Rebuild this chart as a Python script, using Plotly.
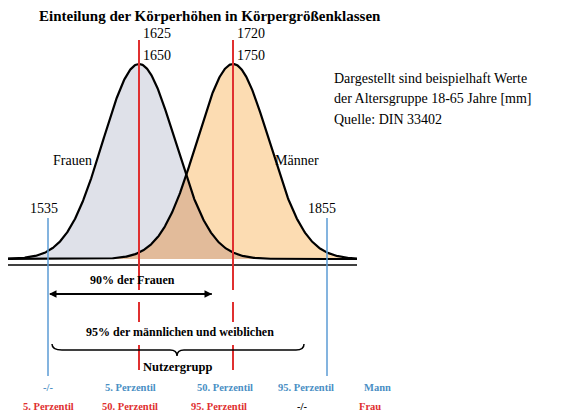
import numpy as np
import plotly.graph_objects as go

title = "Einteilung der Körperhöhen in Körpergrößenklassen"
women_vals = ["1625", "1650"]
men_vals = ["1720", "1750"]
p5_women, p95_men = "1535", "1855"
note_lines = ["Dargestellt sind beispielhaft Werte", "der Altersgruppe 18-65 Jahre [mm]", "Quelle: DIN 33402"]
mann_row = ["-/-", "5. Perzentil", "50. Perzentil", "95. Perzentil", "Mann"]
frau_row = ["5. Perzentil", "50. Perzentil", "95. Perzentil", "-/-", "Frau"]

F = "Liberation Serif"
BLUE = "#4a8fc4"; RED = "#e03030"; LBLUE = "#5b9bd5"
fig = go.Figure()
base, peak, sig = 259, 64, 36
cw, cm = 139, 233
x = np.linspace(0, 357, 600)
def g(c): return base - (base - peak) * np.exp(-((x - c) ** 2) / (2 * sig ** 2))
yw, ym = g(cw), g(cm)
def poly(y, col):
    fig.add_trace(go.Scatter(x=np.r_[x, x[::-1]], y=np.r_[y, np.full_like(x, base)], fill="toself",
                             fillcolor=col, line=dict(width=0), mode="lines", hoverinfo="skip"))
poly(yw, "#dfe1e9"); poly(ym, "#fcdcb2"); poly(np.maximum(yw, ym), "#e2bb9a")
for y in (yw, ym):
    fig.add_trace(go.Scatter(x=x, y=y, mode="lines", line=dict(color="black", width=2.2), hoverinfo="skip"))
shapes = []
def L(x0, y0, x1, y1, c, w=2):
    shapes.append(dict(type="line", x0=x0, y0=y0, x1=x1, y1=y1, line=dict(color=c, width=w)))
L(0, 265, 357, 265, "black", 1.5)
for xx in (48, 327): L(xx, 218, xx, 376, LBLUE, 1.5)
for xx in (cw, cm):
    L(xx, 40, xx, 290, RED); L(xx, 302, xx, 322, RED); L(xx, 345, xx, 370, RED)
L(50, 294, 212, 294, "black", 1.5)
shapes.append(dict(type="path", path="M 52 344 Q 52 350 62 350 L 170 350 Q 177 350 177 356 Q 177 350 184 350 L 296 350 Q 304 350 304 344",
                   line=dict(color="black", width=1.5)))
fig.update_layout(shapes=shapes)
ann = []
def T(t, xx, yy, size=13, color="black", bold=False, anchor="center"):
    ann.append(dict(text=f"<b>{t}</b>" if bold else t, x=xx, y=yy, showarrow=False, xanchor=anchor,
                    font=dict(family=F, size=size, color=color)))
T(title, 210, 16, 15, bold=True)
T(women_vals[0], 141, 33, 14, anchor="left"); T(women_vals[1], 141, 55, 14, anchor="left")
T(men_vals[0], 235, 33, 14, anchor="left"); T(men_vals[1], 235, 55, 14, anchor="left")
T(p5_women, 44, 208, 14); T(p95_men, 322, 208, 14)
T("Frauen", 72, 160, 14); T("Männer", 297, 160, 14)
for i, t in enumerate(note_lines): T(t, 332, 78 + 20.5 * i, 14, anchor="left")
T("90% der Frauen", 132, 280, 12, bold=True)
T("95% der männlichen und weiblichen", 180, 332, 12, bold=True)
T("Nutzergrupp", 177, 367, 12.5, bold=True)
for t, xx in zip(mann_row, [48, 130, 225, 306, 377]): T(t, xx, 387, 10.5, BLUE, bold=True)
for t, xx in zip(frau_row, [48, 130, 219, 302, 370]): T(t, xx, 406, 10.5, RED if t != "-/-" else "black", bold=True)
ann.append(dict(x=49, y=294, ax=212, ay=294, xref="x", yref="y", axref="x", ayref="y", text="",
                showarrow=True, arrowhead=2, arrowsize=1, arrowwidth=1.5, arrowcolor="black"))
ann.append(dict(x=212, y=294, ax=49, ay=294, xref="x", yref="y", axref="x", ayref="y", text="",
                showarrow=True, arrowhead=2, arrowsize=1, arrowwidth=1.5, arrowcolor="black"))
fig.update_layout(annotations=ann, width=569, height=416, margin=dict(l=0, r=0, t=0, b=0),
                  showlegend=False, plot_bgcolor="white", paper_bgcolor="white",
                  xaxis=dict(range=[8, 577], visible=False, fixedrange=True),
                  yaxis=dict(range=[424, 8], visible=False, fixedrange=True))
fig.write_html("out.html")
